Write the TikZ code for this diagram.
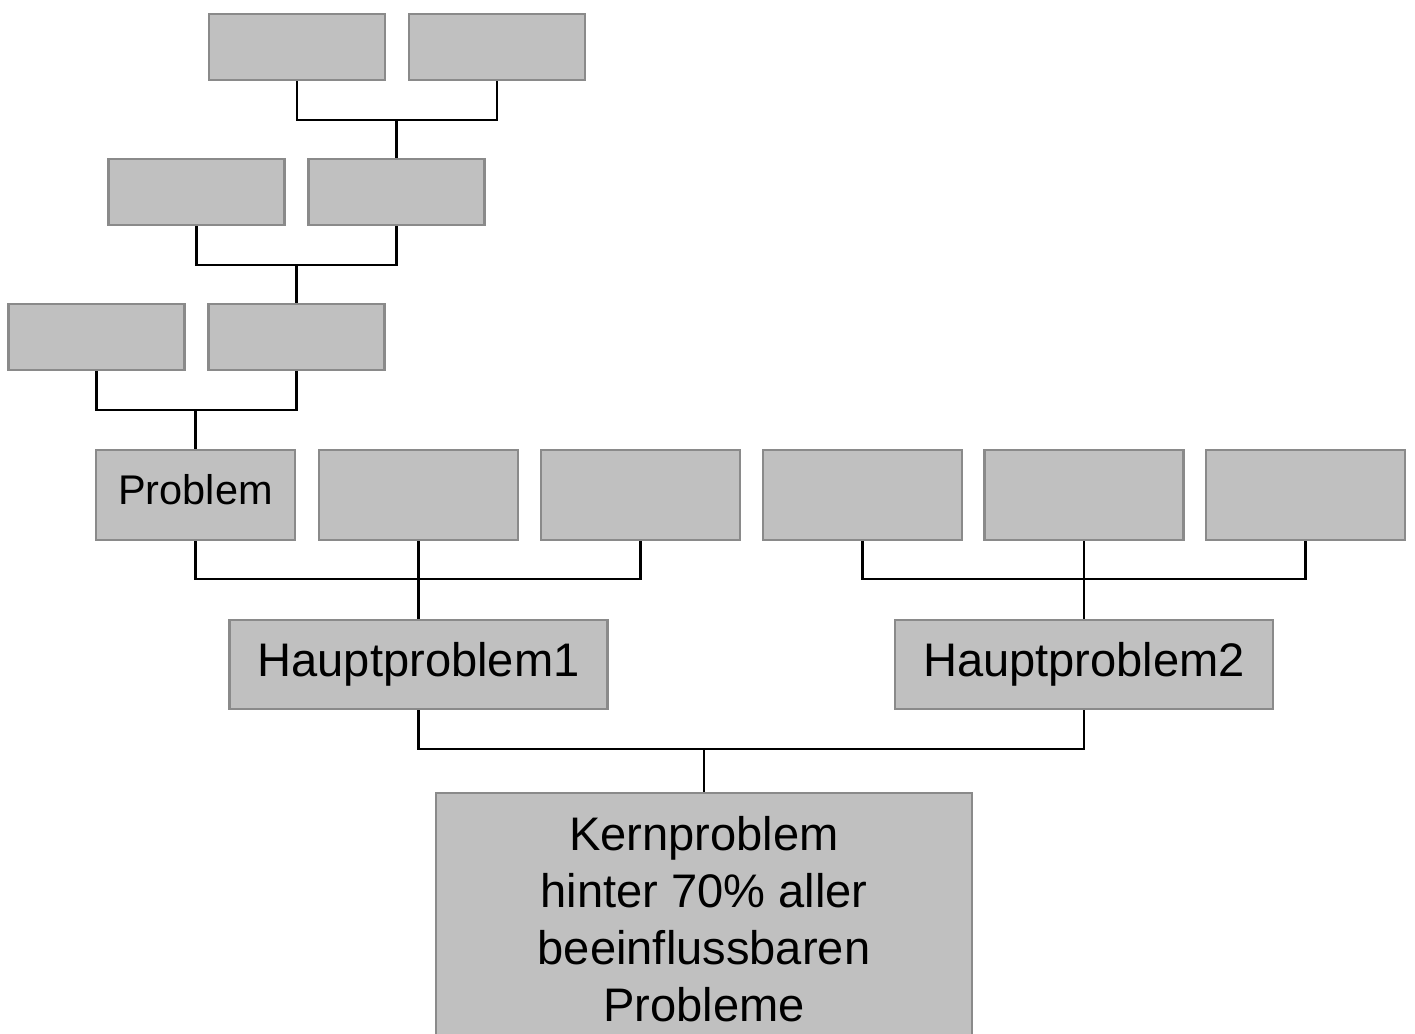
\documentclass[tikz,border=0pt]{standalone}
\usepackage{fontspec}
\setmainfont{Liberation Sans}
\usepackage{tikz}

\definecolor{boxfill}{HTML}{C0C0C0}
\definecolor{boxline}{HTML}{8A8A8A}

\begin{document}
\begin{tikzpicture}[
  box/.style={draw=boxline, fill=boxfill, line width=0.6pt, inner sep=0pt,
    minimum width=1.76cm, minimum height=0.66cm},
  wide/.style={box, minimum width=1.99cm, minimum height=0.90cm,
    font=\fontsize{11.8}{14}\selectfont},
  main/.style={box, minimum width=3.78cm, minimum height=0.89cm,
    font=\fontsize{13.4}{16}\selectfont},
  link/.style={draw=black, line width=0.6pt}]
  \useasboundingbox (0,0) rectangle (14.15,-10.34);
  % upper chain
  \node[box] (a1) at (2.97,-0.47) {};
  \node[box] (a2) at (4.97,-0.47) {};
  \node[box] (b1) at (1.965,-1.92) {};
  \node[box] (b2) at (3.965,-1.92) {};
  \node[box] (c1) at (0.965,-3.37) {};
  \node[box] (c2) at (2.965,-3.37) {};
  % problem row
  \node[wide] (d1) at (1.955,-4.95) {\raisebox{0.12cm}{Problem}};
  \node[wide] (d2) at (4.185,-4.95) {};
  \node[wide] (d3) at (6.405,-4.95) {};
  \node[wide] (d4) at (8.625,-4.95) {};
  \node[wide] (d5) at (10.84,-4.95) {};
  \node[wide] (d6) at (13.055,-4.95) {};
  \node[main] (h1) at (4.185,-6.645) {Hauptproblem1};
  \node[main] (h2) at (10.84,-6.645) {Hauptproblem2};
  \node[box, minimum width=5.36cm, minimum height=2.53cm, align=center,
    font=\fontsize{13.4}{16.2}\selectfont] (kern) at (7.04,-9.195)
    {Kernproblem\\hinter 70\% aller\\beeinflussbaren\\Probleme};
  % junctions
  \coordinate (ja) at (3.965,-1.20);
  \coordinate (jb) at (2.965,-2.65);
  \coordinate (jc) at (1.955,-4.10);
  \coordinate (jd) at (4.185,-5.79);
  \coordinate (je) at (10.84,-5.79);
  \coordinate (jk) at (7.04,-7.49);
  \draw[link] (a1.south) |- (ja) -| (a2.south);
  \draw[link] (ja) -- (b2.north);
  \draw[link] (b1.south) |- (jb) -| (b2.south);
  \draw[link] (jb) -- (c2.north);
  \draw[link] (c1.south) |- (jc) -| (c2.south);
  \draw[link] (jc) -- (d1.north);
  \draw[link] (d1.south) |- (jd) -| (d3.south);
  \draw[link] (d2.south) -- (h1.north);
  \draw[link] (d4.south) |- (je) -| (d6.south);
  \draw[link] (d5.south) -- (h2.north);
  \draw[link] (h1.south) |- (jk) -| (h2.south);
  \draw[link] (jk) -- (kern.north);
\end{tikzpicture}
\end{document}
